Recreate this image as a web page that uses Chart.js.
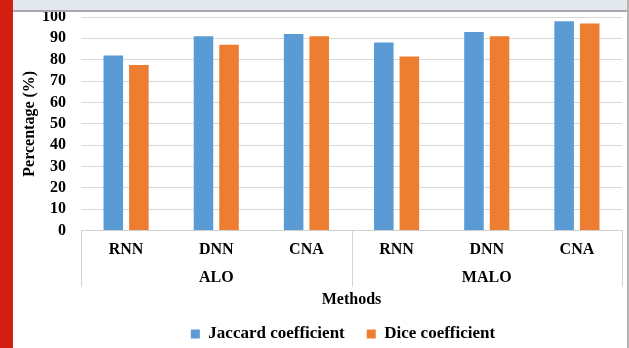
<!DOCTYPE html>
<html>
<head>
<meta charset="utf-8">
<script src="https://cdn.jsdelivr.net/npm/chart.js@4/dist/chart.umd.min.js"></script>
<style>
  html, body { margin: 0; padding: 0; background: #ffffff; }
  #page { position: relative; width: 629px; height: 348px; overflow: hidden; background: #ffffff; }
  #sideBar { position: absolute; left: 0; top: 0; width: 13px; height: 348px; background: #d21f0f; }
  #topBand { position: absolute; left: 13px; top: 0; width: 614px; height: 10px; background: #e3e8ef; border-bottom: 2px solid #a9a9a9; }
  #rightEdge { position: absolute; left: 627px; top: 0; width: 2px; height: 348px; background: #b3b3b3; }
  #wrap { position: absolute; left: 13px; top: 12px; width: 614px; height: 336px; }
</style>
</head>
<body>
<div id="page">
  <div id="sideBar"></div>
  <div id="topBand"></div>
  <div id="rightEdge"></div>
  <div id="wrap"><canvas id="chart" width="614" height="336"></canvas></div>
</div>
<script>
// Methods on the category axis, grouped by optimiser
const methods = ['RNN', 'DNN', 'CNA', 'RNN', 'DNN', 'CNA'];
const groups = ['ALO', 'MALO'];
const groupSize = 3;

// Scores in percent
const jaccard = [82, 91, 92, 88, 93, 98];
const dice = [77.5, 87, 91, 81.5, 91, 97];

const yTicks = [0, 10, 20, 30, 40, 50, 60, 70, 80, 90, 100];

const FONT = "'Liberation Serif', 'Times New Roman', serif";

// Second row of category labels (group names) and the separators between groups
const groupAxisPlugin = {
  id: 'groupAxis',
  afterLayout(chart) {
    const lg = chart.legend;
    if (lg) { lg.left += 22; lg.right += 22; lg.top += 4.5; lg.bottom += 4.5; }
  },
  afterDraw(chart) {
    const x = chart.scales.x;
    const area = chart.chartArea;
    const ctx = chart.ctx;
    ctx.save();
    ctx.strokeStyle = '#d4d4d4';
    ctx.lineWidth = 1;
    const bounds = [area.left];
    for (let g = 1; g < groups.length; g++) {
      const a = x.getPixelForValue(g * groupSize - 1);
      const b = x.getPixelForValue(g * groupSize);
      bounds.push((a + b) / 2);
    }
    bounds.push(area.right);
    bounds.forEach(px => {
      const xx = Math.round(px) + 0.5;
      ctx.beginPath();
      ctx.moveTo(xx, area.bottom);
      ctx.lineTo(xx, area.bottom + 56);
      ctx.stroke();
    });
    ctx.fillStyle = '#000000';
    ctx.font = 'bold 16px ' + FONT;
    ctx.textAlign = 'center';
    ctx.textBaseline = 'middle';
    groups.forEach((name, g) => {
      const cx = x.getPixelForValue(g * groupSize + (groupSize - 1) / 2);
      ctx.fillText(name, cx, area.bottom + 47);
    });
    ctx.restore();
  }
};

new Chart(document.getElementById('chart'), {
  type: 'bar',
  data: {
    labels: methods,
    datasets: [
      { label: 'Jaccard coefficient', data: jaccard, backgroundColor: '#5b9bd5',
        categoryPercentage: 0.567, barPercentage: 0.765 },
      { label: 'Dice coefficient', data: dice, backgroundColor: '#ed7d31',
        categoryPercentage: 0.567, barPercentage: 0.765 }
    ]
  },
  options: {
    responsive: false,
    animation: false,
    devicePixelRatio: 1,
    layout: { padding: { left: 7, right: 5, top: 5, bottom: 0 } },
    plugins: {
      legend: {
        position: 'bottom',
        labels: {
          usePointStyle: true,
          pointStyle: 'rect',
          boxWidth: 9,
          boxHeight: 9,
          padding: 22,
          color: '#000000',
          font: { family: FONT, size: 17, weight: 'bold' }
        }
      },
      tooltip: { enabled: false }
    },
    scales: {
      x: {
        grid: { display: false, drawTicks: false },
        border: { display: true, color: '#d0d0d0', width: 1 },
        ticks: { color: '#000000', padding: 10, font: { family: FONT, size: 16, weight: 'bold' } },
        title: {
          display: true,
          text: 'Methods',
          color: '#000000',
          padding: { top: 0, bottom: -10 },
          font: { family: FONT, size: 16, weight: 'bold' }
        },
        afterFit(scale) {
          const lh = scale.chart.legend ? scale.chart.legend.height : 49;
          scale.height = 117.5 - lh;
        }
      },
      y: {
        min: 0,
        max: 100,
        afterBuildTicks(scale) { scale.ticks = yTicks.map(v => ({ value: v })); },
        grid: { color: '#d9d9d9', lineWidth: 1, drawTicks: false },
        border: { display: false },
        ticks: { color: '#000000', padding: 15, autoSkip: false, font: { family: FONT, size: 16, weight: 'bold', lineHeight: 1 } },
        title: {
          display: true,
          text: 'Percentage (%)',
          color: '#000000',
          padding: 0,
          font: { family: FONT, size: 16, weight: 'bold' }
        },
        afterFit(scale) {
          scale.width = 61;
          scale.paddingTop = 0;
          scale.paddingBottom = 0;
        }
      }
    }
  },
  plugins: [groupAxisPlugin]
});
</script>
</body>
</html>
